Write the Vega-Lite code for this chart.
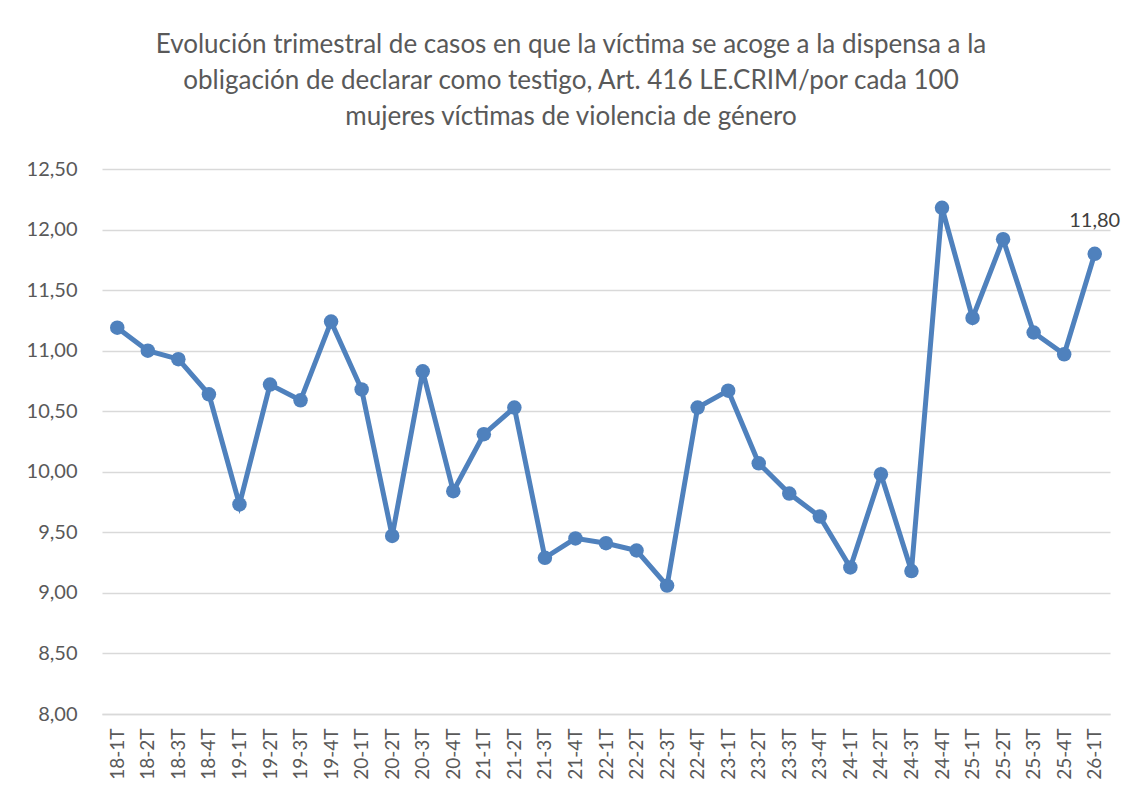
{
  "$schema": "https://vega.github.io/schema/vega-lite/v6.json",
  "autosize": "none",
  "width": 1008,
  "height": 545,
  "padding": {"left": 102, "top": 169, "right": 24, "bottom": 83},
  "background": "white",
  "config": {
    "locale": {"number": {"decimal": ",", "thousands": ".", "grouping": [3], "currency": ["", " €"]}},
    "view": {"stroke": null},
    "font": "Lato"
  },
  "title": {
    "text": ["Evolución  trimestral de casos en que la víctima se acoge a la dispensa  a la", "obligación de declarar como testigo, Art. 416 LE.CRIM/por cada 100", "mujeres víctimas de violencia de género"],
    "font": "Lato",
    "fontSize": 26,
    "fontWeight": "normal",
    "color": "#595959",
    "lineHeight": 36,
    "anchor": "middle",
    "frame": "group",
    "dx": -35,
    "offset": 29
  },
  "data": {
    "values": [
      {"t": "18-1T", "v": 11.19},
      {"t": "18-2T", "v": 11.00},
      {"t": "18-3T", "v": 10.93},
      {"t": "18-4T", "v": 10.64},
      {"t": "19-1T", "v": 9.73},
      {"t": "19-2T", "v": 10.72},
      {"t": "19-3T", "v": 10.59},
      {"t": "19-4T", "v": 11.24},
      {"t": "20-1T", "v": 10.68},
      {"t": "20-2T", "v": 9.47},
      {"t": "20-3T", "v": 10.83},
      {"t": "20-4T", "v": 9.84},
      {"t": "21-1T", "v": 10.31},
      {"t": "21-2T", "v": 10.53},
      {"t": "21-3T", "v": 9.29},
      {"t": "21-4T", "v": 9.45},
      {"t": "22-1T", "v": 9.41},
      {"t": "22-2T", "v": 9.35},
      {"t": "22-3T", "v": 9.06},
      {"t": "22-4T", "v": 10.53},
      {"t": "23-1T", "v": 10.67},
      {"t": "23-2T", "v": 10.07},
      {"t": "23-3T", "v": 9.82},
      {"t": "23-4T", "v": 9.63},
      {"t": "24-1T", "v": 9.21},
      {"t": "24-2T", "v": 9.98},
      {"t": "24-3T", "v": 9.18},
      {"t": "24-4T", "v": 12.18},
      {"t": "25-1T", "v": 11.27},
      {"t": "25-2T", "v": 11.92},
      {"t": "25-3T", "v": 11.15},
      {"t": "25-4T", "v": 10.97},
      {"t": "26-1T", "v": 11.80, "label": true}
    ]
  },
  "encoding": {
    "x": {
      "field": "t",
      "type": "ordinal",
      "sort": null,
      "scale": {"type": "point", "padding": 0.5},
      "axis": {
        "title": null,
        "labelAngle": -90,
        "labelAlign": "right",
        "labelBaseline": "middle",
        "labelFont": "Lato",
        "labelFontSize": 19,
        "labelColor": "#595959",
        "labelPadding": 14,
        "ticks": false,
        "domain": true,
        "domainColor": "#d9d9d9",
        "domainWidth": 1.5,
        "grid": false
      }
    },
    "y": {
      "field": "v",
      "type": "quantitative",
      "scale": {"domain": [8, 12.5], "nice": false, "zero": false},
      "axis": {
        "title": null,
        "values": [8, 8.5, 9, 9.5, 10, 10.5, 11, 11.5, 12, 12.5],
        "format": ".2f",
        "labelFont": "Lato",
        "labelFontSize": 20,
        "labelColor": "#595959",
        "labelPadding": 25,
        "ticks": false,
        "domain": false,
        "grid": true,
        "gridColor": "#d9d9d9",
        "gridWidth": 1.5
      }
    }
  },
  "layer": [
    {"mark": {"type": "line", "color": "#4F81BD", "strokeWidth": 5}},
    {"mark": {"type": "point", "filled": true, "color": "#4F81BD", "size": 210, "opacity": 1}},
    {
      "transform": [{"filter": "datum.label"}],
      "mark": {"type": "text", "dy": -33, "font": "Lato", "fontSize": 20, "color": "#404040"},
      "encoding": {"text": {"field": "v", "type": "quantitative", "format": ".2f"}}
    }
  ]
}
